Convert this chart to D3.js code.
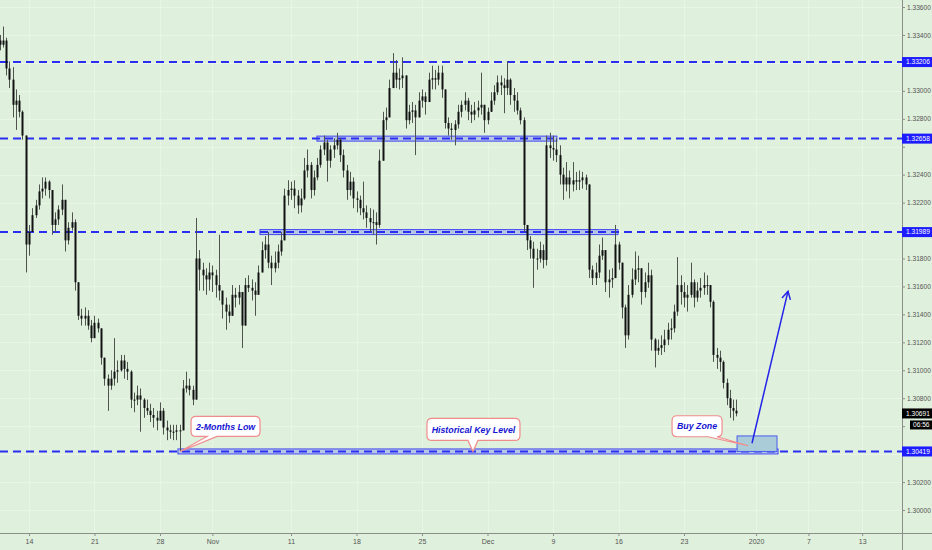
<!DOCTYPE html>
<html><head><meta charset="utf-8">
<script src="https://cdn.jsdelivr.net/npm/d3@7"></script>
<style>
html,body{margin:0;padding:0;background:#dff0dc;}
svg{display:block;font-family:"Liberation Sans",Arial,sans-serif;}
</style></head><body>
<svg id="chart" width="932" height="550"></svg>
<script>
// ---- DATA (6-hour bars) ----
const highs = [1.3340,1.3346,1.3338,1.3321,1.3317,1.3301,1.3297,1.3286,1.3268,1.3204,
1.3216,1.3222,1.3233,1.3238,1.3238,1.3236,1.3229,1.3213,1.3218,1.3233,
1.3222,1.3206,1.3213,1.3208,1.3163,1.3144,1.3145,1.3143,1.3136,1.3139,
1.3137,1.3130,1.3109,1.3097,1.3100,1.3123,1.3107,1.3111,1.3111,1.3106,
1.3100,1.3084,1.3089,1.3087,1.3080,1.3079,1.3076,1.3073,1.3071,1.3077,
1.3073,1.3064,1.3061,1.3061,1.3061,1.3061,1.3093,1.3099,1.3094,1.3089,
1.3209,1.3186,1.3177,1.3173,1.3177,1.3175,1.3172,1.3197,1.3157,1.3152,
1.3147,1.3161,1.3159,1.3161,1.3154,1.3166,1.3168,1.3165,1.3163,1.3175,
1.3192,1.3196,1.3199,1.3182,1.3185,1.3190,1.3199,1.3230,1.3236,1.3235,
1.3236,1.3229,1.3230,1.3252,1.3258,1.3249,1.3243,1.3252,1.3261,1.3268,
1.3265,1.3261,1.3266,1.3270,1.3266,1.3258,1.3247,1.3242,1.3238,1.3228,
1.3225,1.3235,1.3218,1.3216,1.3215,1.3213,1.3258,1.3285,1.3288,1.3308,
1.3327,1.3322,1.3316,1.3324,1.3309,1.3290,1.3292,1.3290,1.3299,1.3301,
1.3299,1.3313,1.3318,1.3315,1.3318,1.3318,1.3301,1.3281,1.3277,1.3279,
1.3290,1.3293,1.3299,1.3295,1.3290,1.3292,1.3293,1.3313,1.3290,1.3288,
1.3299,1.3304,1.3311,1.3311,1.3309,1.3321,1.3309,1.3302,1.3299,1.3288,
1.3281,1.3204,1.3196,1.3192,1.3187,1.3192,1.3190,1.3268,1.3270,1.3268,
1.3266,1.3261,1.3245,1.3249,1.3243,1.3249,1.3242,1.3243,1.3242,1.3240,
1.3233,1.3175,1.3177,1.3190,1.3195,1.3186,1.3172,1.3173,1.3204,1.3192,
1.3177,1.3147,1.3161,1.3173,1.3185,1.3182,1.3173,1.3170,1.3177,1.3172,
1.3123,1.3122,1.3125,1.3129,1.3134,1.3137,1.3147,1.3181,1.3168,1.3163,
1.3161,1.3177,1.3165,1.3163,1.3166,1.3170,1.3168,1.3161,1.3150,1.3116,
1.3114,1.3107,1.3094,1.3086,1.3079,1.3079];
const lows = [1.3329,1.3331,1.3311,1.3302,1.3281,1.3272,1.3281,1.3265,1.3170,1.3182,
1.3202,1.3209,1.3215,1.3223,1.3225,1.3223,1.3197,1.3199,1.3204,1.3211,
1.3185,1.3190,1.3200,1.3157,1.3136,1.3132,1.3132,1.3129,1.3120,1.3123,
1.3127,1.3104,1.3089,1.3071,1.3086,1.3089,1.3091,1.3099,1.3094,1.3093,
1.3073,1.3070,1.3075,1.3056,1.3066,1.3068,1.3063,1.3059,1.3057,1.3064,
1.3054,1.3050,1.3051,1.3050,1.3050,1.3042,1.3057,1.3084,1.3082,1.3075,
1.3079,1.3157,1.3157,1.3154,1.3157,1.3156,1.3152,1.3150,1.3137,1.3129,
1.3134,1.3143,1.3145,1.3147,1.3116,1.3136,1.3156,1.3150,1.3139,1.3154,
1.3172,1.3180,1.3173,1.3161,1.3170,1.3173,1.3182,1.3193,1.3218,1.3222,
1.3216,1.3212,1.3213,1.3222,1.3238,1.3223,1.3225,1.3236,1.3245,1.3254,
1.3235,1.3245,1.3252,1.3258,1.3249,1.3238,1.3222,1.3225,1.3216,1.3213,
1.3211,1.3208,1.3202,1.3199,1.3197,1.3190,1.3202,1.3268,1.3272,1.3283,
1.3302,1.3302,1.3301,1.3302,1.3273,1.3276,1.3277,1.3254,1.3281,1.3288,
1.3283,1.3293,1.3301,1.3301,1.3304,1.3295,1.3273,1.3268,1.3265,1.3261,
1.3273,1.3281,1.3286,1.3279,1.3277,1.3279,1.3281,1.3283,1.3270,1.3276,
1.3285,1.3290,1.3297,1.3297,1.3284,1.3297,1.3290,1.3285,1.3283,1.3276,
1.3199,1.3186,1.3180,1.3159,1.3172,1.3177,1.3173,1.3175,1.3252,1.3250,
1.3249,1.3233,1.3222,1.3228,1.3223,1.3228,1.3229,1.3229,1.3230,1.3229,
1.3166,1.3161,1.3161,1.3166,1.3179,1.3156,1.3152,1.3159,1.3179,1.3172,
1.3137,1.3116,1.3122,1.3152,1.3161,1.3163,1.3147,1.3152,1.3159,1.3114,
1.3102,1.3111,1.3111,1.3113,1.3118,1.3122,1.3127,1.3139,1.3147,1.3145,
1.3142,1.3152,1.3145,1.3149,1.3152,1.3154,1.3154,1.3145,1.3106,1.3101,
1.3099,1.3087,1.3075,1.3066,1.3064,1.3067];
const closes = [1.3333,1.3336,1.3316,1.3308,1.3290,1.3293,1.3285,1.3268,1.3190,1.3199,
1.3211,1.3218,1.3228,1.3230,1.3235,1.3229,1.3204,1.3208,1.3215,1.3222,
1.3193,1.3202,1.3206,1.3163,1.3139,1.3137,1.3139,1.3132,1.3123,1.3134,
1.3130,1.3109,1.3094,1.3089,1.3094,1.3099,1.3100,1.3107,1.3101,1.3099,
1.3079,1.3079,1.3082,1.3079,1.3073,1.3071,1.3068,1.3066,1.3064,1.3071,
1.3059,1.3057,1.3056,1.3056,1.3057,1.3057,1.3087,1.3089,1.3086,1.3079,
1.3180,1.3172,1.3168,1.3165,1.3170,1.3168,1.3161,1.3157,1.3147,1.3142,
1.3139,1.3154,1.3152,1.3156,1.3132,1.3161,1.3159,1.3157,1.3154,1.3170,
1.3186,1.3190,1.3177,1.3173,1.3177,1.3185,1.3193,1.3225,1.3229,1.3230,
1.3225,1.3218,1.3223,1.3243,1.3247,1.3229,1.3238,1.3247,1.3258,1.3263,
1.3250,1.3258,1.3261,1.3265,1.3254,1.3243,1.3229,1.3235,1.3223,1.3222,
1.3216,1.3213,1.3209,1.3206,1.3206,1.3204,1.3250,1.3279,1.3281,1.3302,
1.3313,1.3308,1.3309,1.3311,1.3279,1.3285,1.3286,1.3281,1.3293,1.3296,
1.3292,1.3308,1.3309,1.3308,1.3313,1.3301,1.3277,1.3273,1.3272,1.3276,
1.3285,1.3290,1.3293,1.3285,1.3283,1.3286,1.3288,1.3290,1.3279,1.3285,
1.3293,1.3299,1.3306,1.3304,1.3302,1.3308,1.3297,1.3293,1.3286,1.3279,
1.3204,1.3193,1.3187,1.3180,1.3180,1.3186,1.3179,1.3261,1.3259,1.3258,
1.3254,1.3240,1.3233,1.3238,1.3233,1.3236,1.3235,1.3236,1.3238,1.3233,
1.3172,1.3166,1.3170,1.3182,1.3186,1.3163,1.3165,1.3166,1.3190,1.3177,
1.3145,1.3125,1.3154,1.3165,1.3172,1.3173,1.3156,1.3163,1.3168,1.3122,
1.3114,1.3116,1.3118,1.3122,1.3129,1.3130,1.3142,1.3161,1.3156,1.3152,
1.3154,1.3163,1.3152,1.3157,1.3159,1.3161,1.3161,1.3149,1.3111,1.3109,
1.3106,1.3091,1.3080,1.3073,1.3071,1.30691];
const firstOpen = 1.3336;
const barStartDay = -2.25;   // trading days relative to Oct 14
const barStepDays = 0.25;    // 6-hour bars

const xTickDays   = [0,5,10,14,20,25,30,35,40,45,50,55.5,59.5,63.6];
const xTickLabels = ["14","21","28","Nov","11","18","25","Dec","9","16","23","2020","7","13"];
const yTickValues = [1.300,1.302,1.304,1.306,1.308,1.310,1.312,1.314,1.316,1.318,1.320,1.322,1.324,1.326,1.328,1.330,1.332,1.334,1.336];

const levelPrices = [1.33206,1.32658,1.31989,1.30419];
const zonePrices  = [1.32658,1.31989,1.30419];
const zoneFromDay = [21.98,17.63,11.37];
const zoneToDay   = [40.30,44.96,57.18];

const buyZone = {fromDay:54.05, toDay:57.10, top:1.30530, bottom:1.30419};
const arrowFrom = {day:55.19, price:1.30478};
const arrowTo   = {day:57.94, price:1.31566};

const noteTexts  = ["2-Months Low","Historical Key Level","Buy Zone"];
const noteTipDay = [11.53, 33.89, 54.89];
const noteTipPx  = [1.30419,1.30419,1.30460];

const lastPrice = 1.30691;
const countdown = "06:56";

// ---- LAYOUT ----
const W = 932, H = 550, plotR = 902, axisY = 533;
const svg = d3.select("#chart");
const x = d3.scaleLinear().domain([-2.2137, 66.641]).range([0, plotR]);
const y = d3.scaleLinear().domain([1.300, 1.336]).range([510, 7]);

svg.append("rect").attr("width",W).attr("height",H).attr("fill","#dff0dc");

// grid
const grid = svg.append("g");
grid.selectAll(".hg").data(yTickValues).join("line")
  .attr("x1",0).attr("x2",plotR)
  .attr("y1",d=>Math.round(y(d))+0.5).attr("y2",d=>Math.round(y(d))+0.5)
  .attr("stroke","#e9f6e7").attr("stroke-width",1);
grid.selectAll(".vg").data(xTickDays).join("line")
  .attr("y1",0).attr("y2",axisY)
  .attr("x1",d=>Math.round(x(d))+0.5).attr("x2",d=>Math.round(x(d))+0.5)
  .attr("stroke","#e9f6e7").attr("stroke-width",1);

// zones (thin rectangles)
const zg = svg.append("g");
zonePrices.forEach((p,i)=>{
  zg.append("rect")
    .attr("x",x(zoneFromDay[i])).attr("y",y(p)-2.5)
    .attr("width",x(zoneToDay[i])-x(zoneFromDay[i])).attr("height",5)
    .attr("fill","#b8c6e6").attr("stroke","#4048f0").attr("stroke-width",1);
});

// dashed level lines
svg.append("g").selectAll("line").data(levelPrices).join("line")
  .attr("x1",0).attr("x2",plotR)
  .attr("y1",d=>y(d)).attr("y2",d=>y(d))
  .attr("stroke","#2a2ef2").attr("stroke-width",2)
  .attr("stroke-dasharray","8,5");

// candles
const bars = closes.map((c,i)=>({
  d: barStartDay + i*barStepDays,
  o: i ? closes[i-1] : firstOpen, h: highs[i], l: lows[i], c
}));
const cg = svg.append("g");
cg.selectAll("line").data(bars).join("line")
  .attr("x1",b=>Math.round(x(b.d))+0.5).attr("x2",b=>Math.round(x(b.d))+0.5)
  .attr("y1",b=>y(Math.max(b.h,b.o,b.c))).attr("y2",b=>y(Math.min(b.l,b.o,b.c)))
  .attr("stroke","#4f544f").attr("stroke-width",1);
cg.selectAll("rect").data(bars).join("rect")
  .attr("x",b=>Math.round(x(b.d))-0.5).attr("width",2)
  .attr("y",b=>y(Math.max(b.o,b.c)))
  .attr("height",b=>Math.max(1,Math.abs(y(b.o)-y(b.c))))
  .attr("fill","#121212");

// buy zone
svg.append("rect")
  .attr("x",x(buyZone.fromDay)).attr("y",y(buyZone.top))
  .attr("width",x(buyZone.toDay)-x(buyZone.fromDay))
  .attr("height",y(buyZone.bottom)-y(buyZone.top))
  .attr("fill","#a9ccd8").attr("stroke","#4a5cf0").attr("stroke-width",1);

// arrow
const ax1=x(arrowFrom.day), ay1=y(arrowFrom.price), ax2=x(arrowTo.day), ay2=y(arrowTo.price);
svg.append("line").attr("x1",ax1).attr("y1",ay1).attr("x2",ax2).attr("y2",ay2)
  .attr("stroke","#2424e8").attr("stroke-width",1.5);
(function(){
  const ang=Math.atan2(ay2-ay1,ax2-ax1), L=9, sp=0.5;
  const p1=[ax2-L*Math.cos(ang-sp), ay2-L*Math.sin(ang-sp)];
  const p2=[ax2-L*Math.cos(ang+sp), ay2-L*Math.sin(ang+sp)];
  svg.append("path").attr("d",`M${p1[0]},${p1[1]}L${ax2},${ay2}L${p2[0]},${p2[1]}`)
    .attr("fill","none").attr("stroke","#2424e8").attr("stroke-width",1.5);
})();

// callouts (box offsets relative to tip, in px)
const noteBox = [
  {dx:11, dy:-35, w:69, h:20, b1:16, b2:26},
  {dx:-46, dy:-33, w:93, h:22, b1:41, b2:51},
  {dx:-76, dy:-30, w:50, h:21, b1:36, b2:45}
];
noteTexts.forEach((t,i)=>{
  const tx=x(noteTipDay[i]), ty=y(noteTipPx[i]), bx=noteBox[i];
  const x0=tx+bx.dx, y0=ty+bx.dy, w=bx.w, h=bx.h, r=5;
  const yb=y0+h;
  const d=`M${x0+r},${y0}H${x0+w-r}Q${x0+w},${y0} ${x0+w},${y0+r}V${yb-r}Q${x0+w},${yb} ${x0+w-r},${yb}`+
          `H${x0+bx.b2}L${tx},${ty}L${x0+bx.b1},${yb}H${x0+r}Q${x0},${yb} ${x0},${yb-r}V${y0+r}Q${x0},${y0} ${x0+r},${y0}Z`;
  svg.append("path").attr("d",d).attr("fill","#ffffff").attr("stroke","#f08c8c").attr("stroke-width",1.2);
  svg.append("text").attr("x",x0+w/2).attr("y",y0+h/2+3.2)
    .attr("text-anchor","middle").attr("font-size","8.8px")
    .attr("font-weight","bold").attr("font-style","italic")
    .attr("fill","#1414d2").text(t);
});

// axes
svg.append("line").attr("x1",0).attr("x2",W).attr("y1",axisY+0.5).attr("y2",axisY+0.5)
  .attr("stroke","#8a8f8a").attr("stroke-width",1);
svg.append("line").attr("x1",plotR+0.5).attr("x2",plotR+0.5).attr("y1",0).attr("y2",H)
  .attr("stroke","#8a8f8a").attr("stroke-width",1);

const xAxis = d3.axisBottom(x).tickValues(xTickDays).tickFormat((d,i)=>xTickLabels[i]).tickSize(3).tickPadding(3);
const gx = svg.append("g").attr("transform",`translate(0,${axisY})`).call(xAxis);
gx.select(".domain").remove();
gx.selectAll("line").attr("stroke","#8a8f8a");
gx.selectAll("text").attr("fill","#555").attr("font-size","7px").attr("font-family","Liberation Sans, Arial");

// price-axis tick labels that sit under a price tag are hidden, as on the reference
const tagPrices = levelPrices.concat([lastPrice]);
const covered = d => tagPrices.some(p => Math.abs(y(p) - y(d)) < 9) ||
                     (y(d) > y(lastPrice) && y(d) - y(lastPrice) < 18);
const yAxis = d3.axisRight(y).tickValues(yTickValues)
  .tickFormat(d => covered(d) ? "" : d3.format(".5f")(d)).tickSize(3).tickPadding(2);
const gy = svg.append("g").attr("transform",`translate(${plotR},0)`).call(yAxis);
gy.select(".domain").remove();
gy.selectAll("line").attr("stroke","#8a8f8a");
gy.selectAll("text").attr("fill","#555").attr("font-size","6.6px").attr("font-family","Liberation Sans, Arial");

// level labels
const lg = svg.append("g");
levelPrices.forEach(p=>{
  lg.append("rect").attr("x",plotR).attr("y",y(p)-5).attr("width",30).attr("height",10).attr("fill","#1c1cff");
  lg.append("text").attr("x",plotR+4).attr("y",y(p)+2.4).attr("fill","#fff")
    .attr("font-size","6.6px").text(d3.format(".5f")(p));
});
// last price + countdown
const ly = y(lastPrice);
lg.append("rect").attr("x",plotR).attr("y",ly-5).attr("width",30).attr("height",10).attr("fill","#000");
lg.append("text").attr("x",plotR+4).attr("y",ly+2.4).attr("fill","#fff").attr("font-size","6.6px").text(d3.format(".5f")(lastPrice));
lg.append("rect").attr("x",plotR+8).attr("y",ly+7).attr("width",22).attr("height",9).attr("fill","#000");
lg.append("text").attr("x",plotR+11).attr("y",ly+13.8).attr("fill","#fff").attr("font-size","6.6px").text(countdown);
</script>
</body></html>
